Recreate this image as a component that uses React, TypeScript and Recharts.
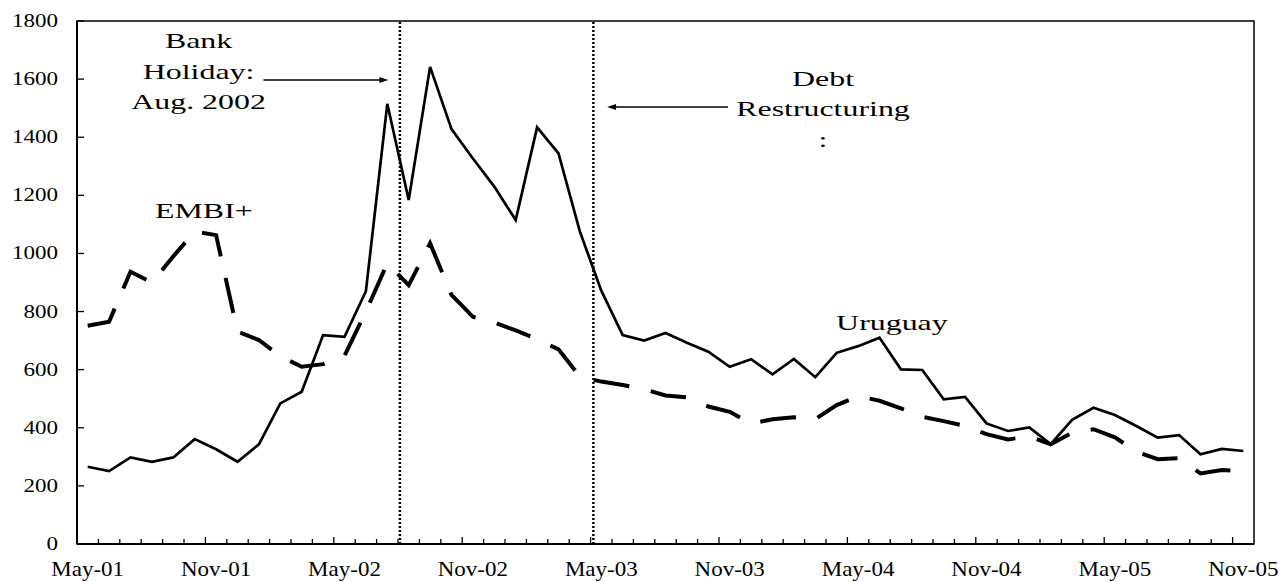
import React from 'react';
import {
  LineChart,
  Line,
  XAxis,
  YAxis,
  ReferenceLine,
  ReferenceArea,
  ReferenceDot,
} from 'recharts';

// monthly spreads, May-01 .. Nov-05 (basis points)
const months = [
  'May-01', 'Jun-01', 'Jul-01', 'Aug-01', 'Sep-01', 'Oct-01',
  'Nov-01', 'Dec-01', 'Jan-02', 'Feb-02', 'Mar-02', 'Apr-02',
  'May-02', 'Jun-02', 'Jul-02', 'Aug-02', 'Sep-02', 'Oct-02',
  'Nov-02', 'Dec-02', 'Jan-03', 'Feb-03', 'Mar-03', 'Apr-03',
  'May-03', 'Jun-03', 'Jul-03', 'Aug-03', 'Sep-03', 'Oct-03',
  'Nov-03', 'Dec-03', 'Jan-04', 'Feb-04', 'Mar-04', 'Apr-04',
  'May-04', 'Jun-04', 'Jul-04', 'Aug-04', 'Sep-04', 'Oct-04',
  'Nov-04', 'Dec-04', 'Jan-05', 'Feb-05', 'Mar-05', 'Apr-05',
  'May-05', 'Jun-05', 'Jul-05', 'Aug-05', 'Sep-05', 'Oct-05',
  'Nov-05',
];

const uruguay = [
  266, 251, 298, 283, 298, 361, 326, 283, 343, 484, 524, 719,
  713, 870, 1515, 1184, 1642, 1428, 1327, 1230, 1115, 1434, 1344, 1075,
  872, 719, 700, 726, 693, 662, 610, 636, 584, 637, 574, 658,
  681, 710, 601, 599, 498, 506, 415, 389, 401, 344, 427, 469,
  444, 406, 366, 375, 309, 327, 320,
];

const embi = [
  751, 765, 937, 900, 990, 1075, 1063, 731, 702, 646, 610, 619,
  648, 800, 966, 891, 1035, 857, 782, 762, 735, 705, 670, 576,
  559, 547, 533, 511, 505, 473, 455, 415, 429, 436, 430, 478,
  509, 493, 467, 438, 423, 406, 378, 360, 370, 343, 383, 395,
  367, 318, 292, 295, 243, 255, 249,
];

const xLabels = ['May-01', 'Nov-01', 'May-02', 'Nov-02', 'May-03', 'Nov-03', 'May-04', 'Nov-04', 'May-05', 'Nov-05'];
const yTicks = [0, 200, 400, 600, 800, 1000, 1200, 1400, 1600, 1800];

const data = months.map((m, i) => ({ i, month: m, uruguay: uruguay[i], embi: embi[i] }));

// labelled months sit on integer positions, tick marks sit between months
const labelPos = xLabels.map((l) => months.indexOf(l));
const boundaries = months.slice(1).map((_, i) => i + 0.5);
const xTicks = [...labelPos, ...boundaries].sort((a, b) => a - b);

const FONT = '"Liberation Serif", "Times New Roman", serif';

function XTick(props: any) {
  const { x, y, payload } = props;
  const v = payload.value as number;
  if (!Number.isInteger(v)) {
    const major = (v + 0.5) % 6 === 0;
    return <line x1={x} x2={x} y1={y} y2={y - (major ? 7 : 5)} stroke="#000" strokeWidth={1.3} />;
  }
  return (
    <text
      transform={`translate(${x},${y + 32}) scale(1.15,1)`}
      textAnchor="middle"
      fontSize={20}
      fontFamily={FONT}
      fill="#000"
    >
      {months[v]}
    </text>
  );
}

function YTick(props: any) {
  const { x, y, payload } = props;
  return (
    <g>
      <line x1={x} x2={x + 7} y1={y} y2={y} stroke="#000" strokeWidth={1.3} />
      <text
        transform={`translate(${x - 19},${y + 6}) scale(1.28,1)`}
        textAnchor="end"
        fontSize={18}
        fontFamily={FONT}
        fill="#000"
      >
        {payload.value}
      </text>
    </g>
  );
}

function Arrow(p: any) {
  const { x1, y1, x2, y2 } = p;
  const dir = Math.sign(x2 - x1);
  return (
    <g>
      <line x1={x1} y1={y1} x2={x2 - dir * 7} y2={y2} stroke="#000" strokeWidth={1.5} />
      <polygon
        points={`${x2},${y2} ${x2 - dir * 9},${y2 - 3} ${x2 - dir * 9},${y2 + 3}`}
        fill="#000"
      />
    </g>
  );
}

// multi-line note, anchored on the middle line's baseline
const note = (lines: string[]) => (props: any) => {
  const { x, y } = props.viewBox;
  const mid = (lines.length - 1) / 2;
  return (
    <text
      transform={`translate(${x},${y}) scale(1.45,1)`}
      textAnchor="middle"
      fontSize={22}
      fontFamily={FONT}
      fill="#000"
    >
      {lines.map((l, k) => (
        <tspan key={k} x={0} y={(k - mid) * 30.5}>
          {l}
        </tspan>
      ))}
    </text>
  );
};

export default function App() {
  return (
    <div style={{ position: 'absolute', left: 0, top: 0, width: 1283, height: 582, background: '#fff' }}>
      <LineChart width={1283} height={582} data={data} margin={{ top: 21, right: 29, bottom: 0, left: 0 }}>
        <ReferenceArea x1={-0.5} x2={54.5} y1={0} y2={1800} fill="none" stroke="#000" strokeWidth={1.5} />
        <XAxis
          dataKey="i"
          type="number"
          domain={[-0.5, 54.5]}
          ticks={xTicks}
          interval={0}
          tickSize={0}
          tickMargin={0}
          tickLine={false}
          tick={(p: any) => <XTick {...p} />}
          height={38}
          axisLine={{ stroke: '#000', strokeWidth: 2 }}
        />
        <YAxis
          type="number"
          domain={[0, 1800]}
          ticks={yTicks}
          interval={0}
          width={77}
          tickSize={0}
          tickMargin={0}
          tickLine={false}
          tick={(p: any) => <YTick {...p} />}
          axisLine={{ stroke: '#000', strokeWidth: 2 }}
        />
        <ReferenceLine x={14.59} stroke="#000" strokeWidth={2.5} strokeDasharray="2 2" />
        <ReferenceLine x={23.63} stroke="#000" strokeWidth={2.5} strokeDasharray="2 2" />
        <ReferenceLine segment={[{ x: 8.21, y: 1597 }, { x: 14.05, y: 1597 }]} shape={Arrow} />
        <ReferenceLine segment={[{ x: 29.92, y: 1504 }, { x: 24.27, y: 1504 }]} shape={Arrow} />
        <Line
          type="linear"
          dataKey="embi"
          stroke="#000"
          strokeWidth={4}
          strokeDasharray="36 22"
          dot={false}
          isAnimationActive={false}
        />
        <Line
          type="linear"
          dataKey="uruguay"
          stroke="#000"
          strokeWidth={2.7}
          dot={false}
          isAnimationActive={false}
        />
        <ReferenceDot x={5.18} y={1601} r={0} fill="none" stroke="none" label={note(['Bank', 'Holiday:', 'Aug. 2002'])} />
        <ReferenceDot x={34.36} y={1473} r={0} fill="none" stroke="none" label={note(['Debt', 'Restructuring', ':'])} />
        <ReferenceDot x={5.43} y={1121} r={0} fill="none" stroke="none" label={note(['EMBI+'])} />
        <ReferenceDot x={37.58} y={736} r={0} fill="none" stroke="none" label={note(['Uruguay'])} />
      </LineChart>
    </div>
  );
}
